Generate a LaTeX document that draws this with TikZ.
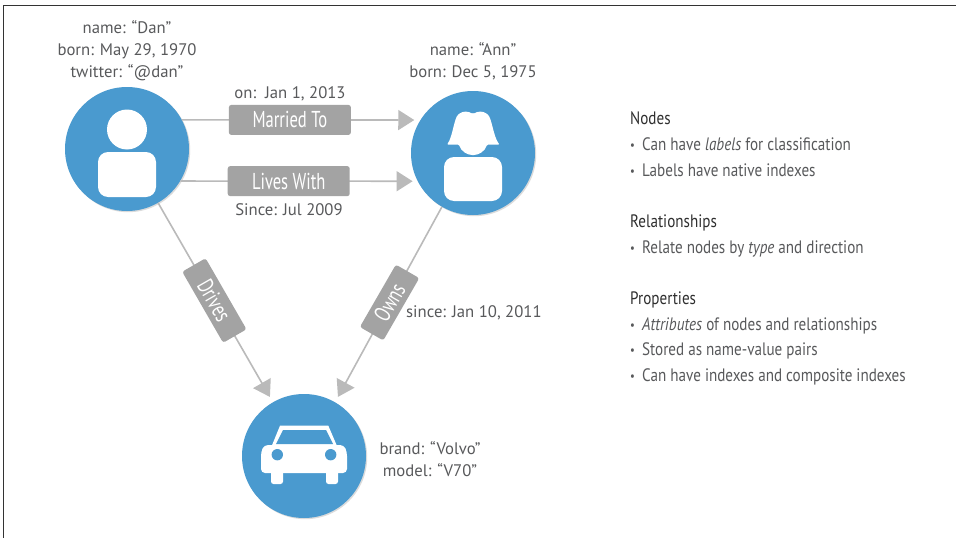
\documentclass[tikz,border=0pt]{standalone}
\usepackage{fontspec}
\setmainfont{PT Sans}
\newfontfamily\boxfont[FakeStretch=0.72]{PT Sans}
\newfontfamily\notefont[FakeStretch=0.84]{PT Sans}
\usetikzlibrary{arrows.meta,shadows}
\definecolor{nodeblue}{HTML}{4A9ACF}
\definecolor{edgegray}{HTML}{BABABA}
\definecolor{boxgray}{HTML}{A3A3A3}
\definecolor{textgray}{HTML}{58595B}
\definecolor{headgray}{HTML}{2F2F2F}
\newcommand{\itemdot}{\makebox[12pt][l]{\raisebox{1pt}{\scalebox{.7}{\textbullet}}}}
\begin{document}
\begin{tikzpicture}[x=1pt, y=-1pt,
    entity/.style={circle, fill=nodeblue, minimum size=124pt, inner sep=0pt,
        drop shadow={shadow xshift=1.2pt, shadow yshift=-1.2pt, fill=black, opacity=0.14}},
    rel/.style={draw=edgegray, line width=1.6pt, -{Triangle[length=16pt, width=20pt, fill=edgegray]}},
    relbox/.style={fill=boxgray, rounded corners=2.5pt, text=white, inner sep=0pt, minimum height=30pt,
        font=\boxfont\fontsize{23}{24}\selectfont},
    prop/.style={text=textgray, align=center, inner sep=0pt, font=\fontsize{16.7}{22}\selectfont},
    heading/.style={text=headgray, anchor=west, inner sep=0pt, text height=16pt, text depth=3pt,
        font=\notefont\fontsize{18}{20}\selectfont},
    bullet/.style={text=textgray, anchor=west, inner sep=0pt, text height=16pt, text depth=3pt,
        font=\notefont\fontsize{18}{20}\selectfont}]
    \useasboundingbox (0,0) rectangle (956,538);
    \fill[white] (0,0) rectangle (956,538);

    % Page frame
    \draw[line width=1pt, black!80] (3,538) -- (3,5) -- (956,5);

    % Nodes for the graph
    \node[entity] (dan) at (127,149) {};
    \node[entity] (ann) at (473,153) {};
    \node[entity] (car) at (304,456) {};

    % Relationships with their type boxes
    \draw[rel, shorten >=6pt] (dan.28) -- node[pos=0.453, relbox, minimum width=122pt] (married) {Married To} (ann.148);
    \draw[rel, shorten >=5pt] (dan.-31) -- node[pos=0.457, relbox, minimum width=122pt] (lives) {Lives With} (ann.-153);
    \draw[rel, shorten >=6pt] (dan.-60) -- node[pos=0.49, relbox, sloped, minimum width=82pt, minimum height=27pt] (drives) {Drives} (car.120);
    \draw[rel, shorten >=6pt] (ann.-120) -- node[pos=0.49, relbox, rotate=60, minimum width=72pt, minimum height=27pt] (owns) {Owns} (car.60);

    % Icon for Dan
    \fill[white] (127,129.5) circle (20);
    \fill[white, rounded corners=10pt] (98,152) rectangle (156,197);

    % Icon for Ann
    \fill[white, rounded corners=1pt] (473,114) .. controls (468,111) and (463,111) .. (459,114)
        .. controls (454,118) and (453,136) .. (447,144.7) -- (459,144.7)
        .. controls (461,151) and (467,155) .. (473,155)
        .. controls (479,155) and (485,151) .. (487,144.7) -- (499.5,144.7)
        .. controls (493,136) and (492,118) .. (487,114)
        .. controls (483,111) and (478,111) .. (473,114) -- cycle;
    \fill[white, rounded corners=10pt] (444,157) rectangle (502,201);

    % Icon for the car
    \fill[white, rounded corners=4pt] (261,473) -- (261,452) -- (264,445) -- (344,445) -- (347,452) -- (347,473) -- cycle;
    \fill[white] (280,425.7) -- (328.3,425.7) -- (337,446) -- (271.7,446) -- cycle;
    \fill[nodeblue] (283,430) -- (326,430) -- (333,444) -- (276,444) -- cycle;
    \fill[white, rounded corners=2.5pt] (271,470) rectangle (283,484);
    \fill[white, rounded corners=2.5pt] (326,470) rectangle (338,484);
    \fill[nodeblue] (277.3,454.7) circle (5.7);
    \fill[nodeblue] (330.7,454.7) circle (5.7);

    % Property labels
    \node[prop] (danprops) at (127,51) {name: “Dan”\\born: May 29, 1970\\twitter: “@dan”};
    \node[prop] (annprops) at (473,61) {name: “Ann”\\born: Dec 5, 1975};
    \node[prop] (marriedon) at (290,94) {on:\ \ Jan 1, 2013};
    \node[prop] (livessince) at (289,210) {Since: Jul 2009};
    \node[prop, anchor=west] (ownssince) at (406,313) {since: Jan 10, 2011};
    \node[prop] (carprops) at (430,459) {brand: “Volvo”\\model: “V70”};

    % Notes on the right
    \node[heading] (nodeshead) at (630,118) {Nodes};
    \node[bullet] (nodesa) at (630,144) {\itemdot Can have \textit{labels} for classification};
    \node[bullet] (nodesb) at (630,170) {\itemdot Labels have native indexes};
    \node[heading] (relhead) at (630,221) {Relationships};
    \node[bullet] (rela) at (630,247) {\itemdot Relate nodes by \textit{type} and direction};
    \node[heading] (prophead) at (630,298) {Properties};
    \node[bullet] (propa) at (630,324) {\itemdot \textit{Attributes} of nodes and relationships};
    \node[bullet] (propb) at (630,349) {\itemdot Stored as name-value pairs};
    \node[bullet] (propc) at (630,375) {\itemdot Can have indexes and composite indexes};
\end{tikzpicture}
\end{document}
